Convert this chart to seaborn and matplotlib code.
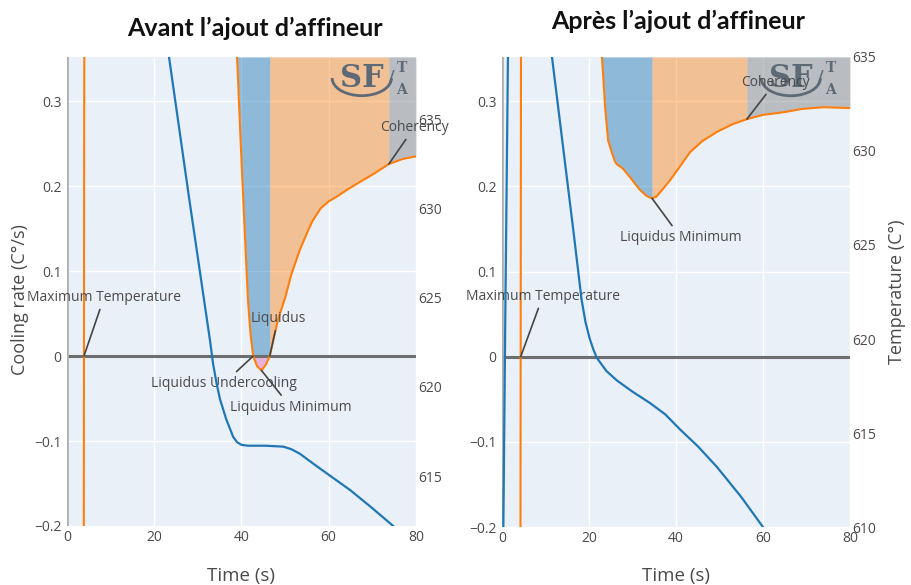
import numpy as np
import seaborn as sns
import matplotlib.pyplot as plt
from matplotlib.patches import Arc

# ---- data ----
# before refiner (left panel)
left_time_rate = [0, 3.7, 3.9, 4.1, 6, 15, 30, 37, 38.5, 39.0, 40.1, 41.5, 42.1, 42.7, 43.6, 44.6,
                  45.6, 46.5, 47.3, 48.5, 50.0, 51.5, 53.4, 55.3, 56.3, 57.3, 58.2, 60, 62, 64,
                  67.2, 70.5, 73.8, 77, 80]
left_rate = [-2.0, -1.0, 0.0, 1.0, 2.5, 1.5, 0.8, 0.5, 0.41, 0.352, 0.22, 0.066, 0.025, 0.0,
             -0.012, -0.017, -0.010, 0.0, 0.019, 0.045, 0.068, 0.097, 0.125, 0.148, 0.159,
             0.167, 0.174, 0.182, 0.188, 0.195, 0.205, 0.215, 0.226, 0.232, 0.235]
left_time_temp = [4, 12, 23.4, 28, 32.8, 33.5, 34.3, 35.1, 36.5, 37.3, 38.1, 39.0, 40.0, 41.5,
                  45.5, 49.6, 51.5, 53.4, 57, 61, 65, 70, 74.8, 78]
left_temp = [672, 657, 638.5, 630.6, 622.6, 621.3, 620.2, 619.3, 618.2, 617.7, 617.2, 616.9,
             616.75, 616.7, 616.7, 616.65, 616.5, 616.25, 615.6, 614.9, 614.2, 613.2, 612.2,
             611.5]

# after refiner (right panel)
right_time_rate = [0, 4.1, 4.3, 4.5, 7, 15, 21, 22.5, 23.0, 23.7, 24.4, 25.3, 26.0, 26.4, 27.8,
                   29.4, 31.7, 33.2, 34.5, 35.5, 36.5, 38.6, 41, 43.2, 46, 49.4, 53, 56.3, 60,
                   64.6, 69, 73.8, 80]
right_rate = [-2.0, -1.0, 0.0, 1.0, 3.0, 1.5, 0.6, 0.42, 0.352, 0.294, 0.254, 0.239, 0.229,
              0.226, 0.221, 0.211, 0.196, 0.189, 0.186, 0.188, 0.194, 0.207, 0.224, 0.240,
              0.253, 0.264, 0.273, 0.279, 0.284, 0.287, 0.291, 0.293, 0.292]
right_time_temp = [0, 0.3, 0.8, 1.4, 2.5, 4.3, 8, 11.5, 14, 16.5, 18.3, 19.2, 20.2, 21.0, 21.8,
                   24, 26.4, 30, 34, 37.5, 40.9, 45, 49.4, 55, 60, 62]
right_temp = [603, 609.5, 622, 635.5, 646, 650, 643, 635, 630.3, 625.6, 622.1, 620.9, 620.0,
              619.45, 619.0, 618.3, 617.8, 617.2, 616.6, 616.0, 615.2, 614.3, 613.2, 611.6,
              610.0, 609.4]

titles = ["Avant l\u2019ajout d\u2019affineur", "Apr\u00e8s l\u2019ajout d\u2019affineur"]
rate_ticks = [-0.2, -0.1, 0, 0.1, 0.2, 0.3]
rate_ticklabels = ["\u22120.2", "\u22120.1", "0", "0.1", "0.2", "0.3"]
time_ticks = [0, 20, 40, 60, 80]

# phase limits (s): blue / pink / orange / gray zones
left_zones = dict(blue=(38.5, 46.5), pink=(42.7, 46.5), orange=(46.5, 73.8), gray=(73.8, 80))
right_zones = dict(blue=(22.5, 34.5), pink=None, orange=(34.5, 56.3), gray=(56.3, 80))

# annotations: (text, point, text position)
left_notes = [("Maximum Temperature", (3.9, 0), (8.5, 0.069)),
              ("Liquidus", (46.5, 0), (48.4, 0.044)),
              ("Liquidus Undercooling", (42.7, 0), (36.0, -0.032)),
              ("Liquidus Minimum", (44.6, -0.017), (51.3, -0.060)),
              ("Coherency", (73.8, 0.226), (79.6, 0.269))]
right_notes = [("Maximum Temperature", (4.3, 0), (9.4, 0.071)),
               ("Liquidus Minimum", (34.5, 0.186), (41.1, 0.140)),
               ("Coherency", (56.3, 0.279), (62.8, 0.322))]

sns.set_theme(style="white")
plt.rcParams['font.family'] = ['Open Sans', 'DejaVu Sans']

BG = "#eaf0f8"
TOP = 0.352
BLUE = "#1f77b4"
ORANGE = "#ff7f0e"
TXT = "#4a4a4a"
LOGO = "#5d6a76"

fig = plt.figure(figsize=(9.11, 5.85), dpi=100)
ax_l = fig.add_axes([0.0735, 0.1009, 0.383, 0.8017])
ax_r = fig.add_axes([0.551, 0.0991, 0.382, 0.8035])


def panel(ax, t_rate, rate, t_temp, temp, zones, notes, temp_lim, temp_ticks, logo_x):
    t = np.array(t_rate)
    r = np.array(rate)
    ax.set_facecolor(BG)
    ax.set_xlim(0, 80)
    ax.set_ylim(-0.2, TOP)
    ax.grid(True, color="white", lw=1)
    ax.set_axisbelow(True)
    for s in ax.spines.values():
        s.set_visible(False)
    ax.axhline(0, color="#6e6e6e", lw=2.2, zorder=2)
    ax.axvline(0, color="#b0b0b0", lw=2, zorder=2)

    # phase fills (up to the top of the plot)
    b0, b1 = zones["blue"]
    m = (t >= b0) & (t <= b1)
    ax.fill_between(t, np.maximum(r, 0), TOP, where=m, color=BLUE, alpha=0.45, lw=0, zorder=1)
    if zones["pink"]:
        p0, p1 = zones["pink"]
        m = (t >= p0) & (t <= p1)
        ax.fill_between(t, r, 0, where=m, color="#e377c2", alpha=0.5, lw=0, zorder=1)
    o0, o1 = zones["orange"]
    m = (t >= o0) & (t <= o1)
    ax.fill_between(t, r, TOP, where=m, color=ORANGE, alpha=0.42, lw=0, zorder=1)
    g0, g1 = zones["gray"]
    m = (t >= g0) & (t <= g1)
    ax.fill_between(t, r, TOP, where=m, color="#7f7f7f", alpha=0.45, lw=0, zorder=1)

    sns.lineplot(x=t_rate, y=rate, ax=ax, color=ORANGE, lw=1.5, sort=False, estimator=None,
                 zorder=3)
    ax.set_yticks(rate_ticks)
    ax.set_yticklabels(rate_ticklabels)
    ax.set_xticks(time_ticks)
    ax.tick_params(length=0, labelsize=10, labelcolor=TXT)
    ax.tick_params(axis="y", pad=4)
    ax.tick_params(axis="x", pad=3)
    ax.set_xlabel("")
    ax.set_ylabel("")

    for text, xy, xyt in notes:
        ax.annotate(text, xy=xy, xytext=xyt, ha="center", va="center", fontsize=10, color=TXT,
                    annotation_clip=False, zorder=6,
                    arrowprops=dict(arrowstyle="-", color="#444444", lw=1.2,
                                    shrinkA=1, shrinkB=0))

    # SFTA logo
    ax.text(logo_x, 0.955, "SF", transform=ax.transAxes, ha="center", va="center",
            fontsize=22, fontweight="bold", family="DejaVu Serif", color=LOGO, zorder=5)
    ax.add_patch(Arc((logo_x, 0.955), 0.17, 0.075, theta1=180, theta2=360,
                     transform=ax.transAxes, color=LOGO, lw=2, zorder=5))
    ax.text(logo_x + 0.085, 0.955, "/", transform=ax.transAxes, ha="center", va="center",
            fontsize=14, family="DejaVu Serif", color=LOGO, zorder=5)
    ax.text(logo_x + 0.115, 0.977, "T", transform=ax.transAxes, ha="center", va="center",
            fontsize=10, fontweight="bold", family="DejaVu Serif", color=LOGO, zorder=5)
    ax.text(logo_x + 0.115, 0.93, "A", transform=ax.transAxes, ha="center", va="center",
            fontsize=10, fontweight="bold", family="DejaVu Serif", color=LOGO, zorder=5)

    axt = ax.twinx()
    sns.lineplot(x=t_temp, y=temp, ax=axt, color=BLUE, lw=1.6, sort=False, estimator=None)
    axt.set_ylim(*temp_lim)
    axt.set_yticks(temp_ticks)
    axt.set_xlim(0, 80)
    axt.tick_params(length=0, labelsize=10, labelcolor=TXT, pad=2)
    axt.set_ylabel("")
    for s in axt.spines.values():
        s.set_visible(False)
    return axt


panel(ax_l, left_time_rate, left_rate, left_time_temp, left_temp, left_zones, left_notes,
      (612.2, 638.5), [615, 620, 625, 630, 635], 0.845)
panel(ax_r, right_time_rate, right_rate, right_time_temp, right_temp, right_zones, right_notes,
      (610, 635), [610, 615, 620, 625, 630, 635], 0.83)

fig.text(255 / 911, 1 - 28 / 585, titles[0], ha="center", va="center", fontsize=18,
         fontweight="bold", family="Lato", color="#111111")
fig.text(678 / 911, 1 - 21 / 585, titles[1], ha="center", va="center", fontsize=18,
         fontweight="bold", family="Lato", color="#111111")
fig.text(20 / 911, 1 - 300 / 585, "Cooling rate (C\u00b0/s)", rotation=90, ha="center",
         va="center", fontsize=13, color=TXT)
fig.text(897 / 911, 1 - 292 / 585, "Temperature (C\u00b0)", rotation=90, ha="center",
         va="center", fontsize=13, color=TXT)
fig.text(241 / 911, 1 - 576 / 585, "Time (s)", ha="center", va="center", fontsize=13.5,
         color=TXT)
fig.text(676 / 911, 1 - 576 / 585, "Time (s)", ha="center", va="center", fontsize=13.5,
         color=TXT)

fig.savefig("out.png", dpi=100, facecolor="white")
